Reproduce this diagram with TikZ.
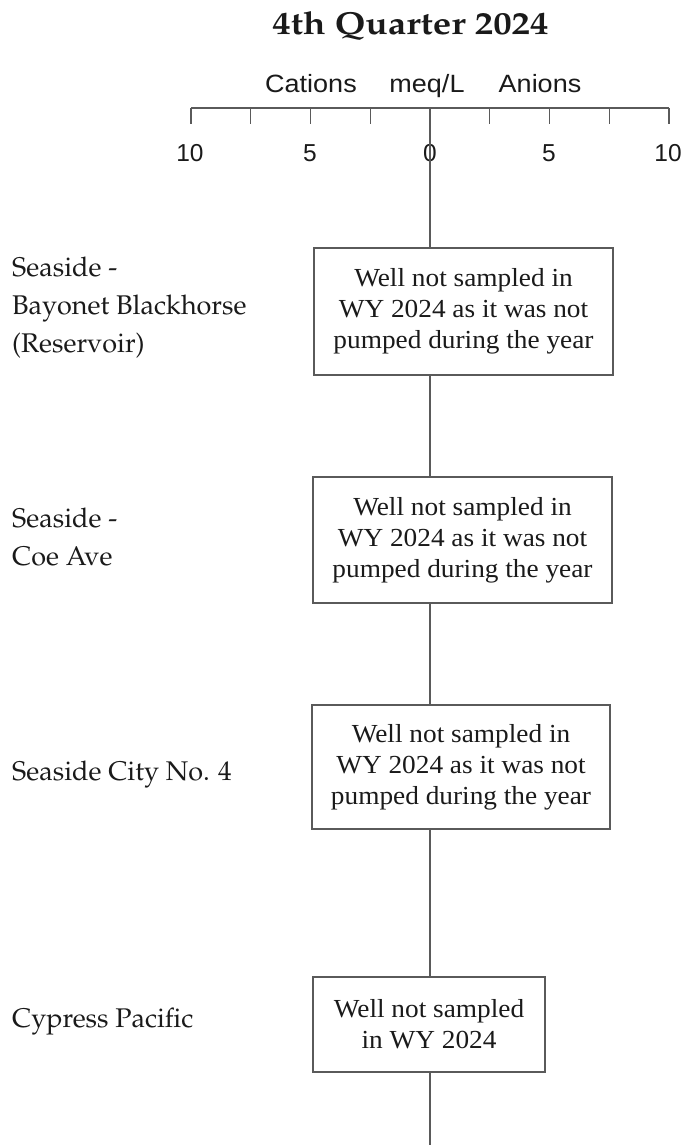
\documentclass[tikz,border=0pt]{standalone}
\usepackage[T1]{fontenc}
\usepackage{fontspec}
\usepackage{graphicx}
\newfontfamily\axisfont{Liberation Sans}
\newfontfamily\sidefont[FakeStretch=1.08]{Liberation Sans}
\newfontfamily\notefont[FakeStretch=1.05]{Liberation Serif}
\newcommand\palfont{\fontencoding{T1}\fontfamily{ppl}\selectfont}
\newcommand\welltext[1]{{\palfont\fontsize{27}{38}\selectfont
  \begin{tabular}[t]{@{}l@{}}#1\end{tabular}}}
\definecolor{linegray}{HTML}{5A5A5A}
\definecolor{inkgray}{HTML}{1A1A1A}

\begin{document}
\begin{tikzpicture}[x=1pt,y=-1pt,
  rule/.style={draw=linegray, line width=1.3pt},
  notebox/.style={draw=linegray, line width=1.3pt, fill=white, inner sep=0pt,
    align=center, text=inkgray,
    font=\notefont\fontsize{26}{31}\selectfont},
  welllabel/.style={anchor=base west, inner sep=0pt, text=inkgray},
  ticklabel/.style={font=\axisfont\fontsize{24.5}{28}\selectfont, inner sep=0pt, text=inkgray},
  sidelabel/.style={font=\sidefont\fontsize{25}{30}\selectfont, inner sep=0pt,
    anchor=base, text=inkgray}]
\useasboundingbox (0,0) rectangle (681,1145);

% title
\node[anchor=base, inner sep=0pt, text=inkgray] (title) at (410.5,35)
  {\resizebox{276pt}{23pt}{\palfont\bfseries 4th Quarter 2024}};

% scale labels
\node[sidelabel] (cations) at (311,93) {Cations};
\node[sidelabel] (meq) at (427,93) {meq/L};
\node[sidelabel] (anions) at (540,93) {Anions};

% horizontal scale with ticks
\coordinate (axL) at (191,108);
\coordinate (axR) at (669,108);
\coordinate (zero) at (430,108);
\coordinate (bottom) at (430,1145);
\draw[rule] (axL) -- (axR);
\foreach \i in {0,...,8}
  \draw[rule] (191+59.75*\i,108) -- (191+59.75*\i,124);

\node[ticklabel] (t10L) at (190,153) {10};
\node[ticklabel] (t5L)  at (310,153) {5};
\node[ticklabel] (t0)   at (430,153) {0};
\node[ticklabel] (t5R)  at (549,153) {5};
\node[ticklabel] (t10R) at (668,153) {10};

% zero line
\draw[rule] (zero) -- (bottom);

% notes for each well
\node[notebox, minimum width=299pt, minimum height=127pt] (b1) at (463.5,311.5)
  {Well not sampled in\\WY 2024 as it was not\\pumped during the year};
\node[notebox, minimum width=299pt, minimum height=126pt] (b2) at (462.5,540)
  {Well not sampled in\\WY 2024 as it was not\\pumped during the year};
\node[notebox, minimum width=298pt, minimum height=124pt] (b3) at (461,767)
  {Well not sampled in\\WY 2024 as it was not\\pumped during the year};
\node[notebox, minimum width=232pt, minimum height=95pt] (b4) at (429,1024.5)
  {Well not sampled\\in WY 2024};

% well names
\node[welllabel] (w1) at (12,276) {\welltext{Seaside -\\Bayonet Blackhorse\\(Reservoir)}};
\node[welllabel] (w2) at (12,527) {\welltext{Seaside -\\Coe Ave}};
\node[welllabel] (w3) at (12,780) {\welltext{Seaside City No. 4}};
\node[welllabel] (w4) at (12,1027) {\welltext{Cypress Pacific}};
\end{tikzpicture}
\end{document}
